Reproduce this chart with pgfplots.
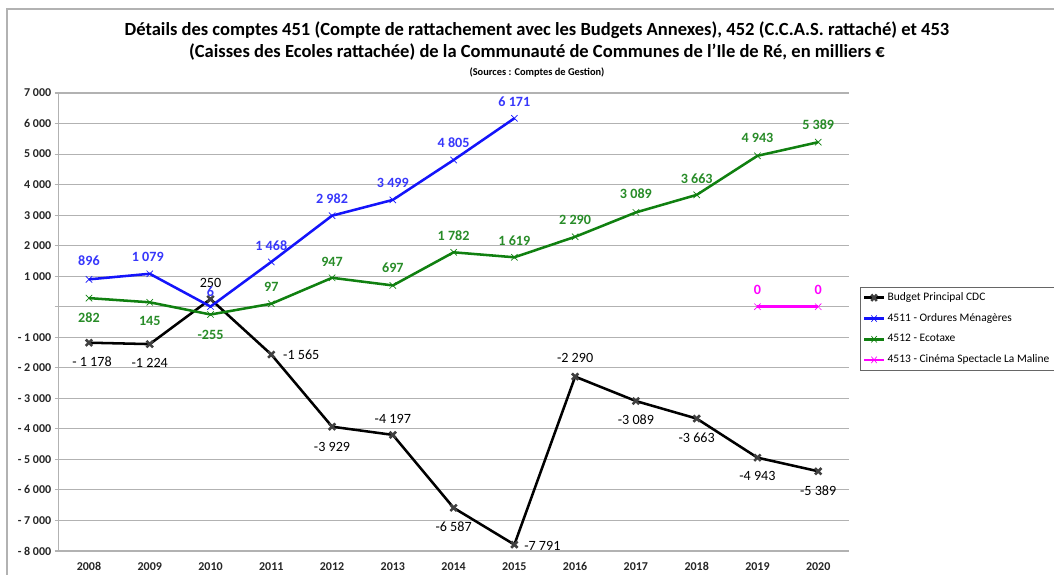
\documentclass[border=0pt]{standalone}
\usepackage{fontspec}
\setmainfont{Carlito}
\usepackage{pgfplots}
\pgfplotsset{compat=1.18}

\definecolor{gridgray}{RGB}{178,178,178}
\definecolor{serblue}{RGB}{20,20,250}
\definecolor{sergreen}{RGB}{16,128,16}
\definecolor{lblgreen}{RGB}{40,140,40}
\definecolor{sermag}{RGB}{255,0,255}

% data label: \lb{dx}{dy}{text}, offset of the label centre in px (y up)
\protected\def\lb#1#2#3{\raisebox{\dimexpr 0.75pt*#2-3.4pt\relax}[0pt][0pt]{\makebox[0pt]{\hspace*{\dimexpr 1.5pt*#1\relax}#3}}}

\begin{document}
\begin{tikzpicture}[x=0.75pt,y=0.75pt]
\useasboundingbox (0,0) rectangle (1054,575);
\draw[gridgray, line width=0.8pt] (7,0) -- (7,566) -- (1054,566);
\node[font=\fontsize{13.9}{16}\selectfont\bfseries] at (537,545) {Détails des comptes 451 (Compte de rattachement avec les Budgets Annexes), 452 (C.C.A.S. rattaché) et 453};
\node[font=\fontsize{13.9}{16}\selectfont\bfseries] at (537,523) {(Caisses des Ecoles rattachée) de la Communauté de Communes de l'Ile de Ré, en milliers €};
\node[font=\fontsize{7.8}{9}\selectfont\bfseries] at (537,503) {(Sources : Comptes de Gestion)};
\begin{axis}[
    at={(43.95pt,18pt)}, anchor=south west,
    scale only axis, width=592.5pt, height=343.5pt,
    xmin=-0.5, xmax=12.5, ymin=-8000, ymax=7000,
    xtick={0,...,12},
    xticklabels={2008,2009,2010,2011,2012,2013,2014,2015,2016,2017,2018,2019,2020},
    ytick={-8000,-7000,...,7000},
    yticklabels={- 8 000,- 7 000,- 6 000,- 5 000,- 4 000,- 3 000,- 2 000,- 1 000,,1 000,2 000,3 000,4 000,5 000,6 000,7 000},
    ymajorgrids, grid style={gridgray, line width=0.8pt},
    axis x line*=bottom, axis y line*=left,
    axis line style={gridgray, line width=0.8pt, -},
    x tick style={draw=none},
    y tick style={gridgray, line width=0.8pt},
    major tick length=3pt, tick align=outside,
    tick label style={font=\fontsize{9}{10}\selectfont\bfseries, text=black!85},
    yticklabel style={xshift=1pt},
    xticklabel style={yshift=-2pt},
    legend style={at={(1.0145,0.5764)}, anchor=north west, draw=black!60,
        line width=0.6pt, font=\fontsize{8.6}{10}\selectfont, inner sep=2pt,
        row sep=4.2pt, cells={anchor=west}},
    legend image post style={xscale=0.85},
    every axis plot/.append style={line width=1.9pt,
        mark=x, mark size=3.4pt, mark options={line width=0.5pt, solid}},
    point meta=explicit symbolic,
    nodes near coords,
    nodes near coords style={anchor=center, inner sep=0pt,
        font=\fontsize{10.6}{12}\selectfont\bfseries},
    clip=false,
]
\addplot[black, mark options={draw=black!75},
    nodes near coords style={font=\fontsize{10.6}{12}\selectfont, text=black}]
coordinates {
(0,-1178) [\lb{3}{-19}{- 1 178}]
(1,-1224) [\lb{0}{-19}{-1 224}]
(2,250)   [\lb{0}{16}{250}]
(3,-1565) [\lb{30}{0}{-1 565}]
(4,-3929) [\lb{0}{-20}{-3 929}]
(5,-4197) [\lb{0}{16}{-4 197}]
(6,-6587) [\lb{0}{-19}{-6 587}]
(7,-7791) [\lb{28}{-1}{-7 791}]
(8,-2290) [\lb{0}{19}{-2 290}]
(9,-3089) [\lb{0}{-19}{-3 089}]
(10,-3663) [\lb{0}{-19}{-3 663}]
(11,-4943) [\lb{0}{-18}{-4 943}]
(12,-5389) [\lb{0}{-20}{-5 389}]
};
\addlegendentry{Budget Principal CDC}
\addplot[serblue, nodes near coords style={text=serblue!85}]
coordinates {
(0,896)  [\lb{0}{18}{896}]
(1,1079) [\lb{-2}{17}{1 079}]
(2,6)    [\lb{0}{15}{6}]
(3,1468) [\lb{0}{16}{1 468}]
(4,2982) [\lb{0}{17}{2 982}]
(5,3499) [\lb{0}{17}{3 499}]
(6,4805) [\lb{0}{17}{4 805}]
(7,6171) [\lb{0}{16}{6 171}]
};
\addlegendentry{4511 - Ordures Ménagères}
\addplot[sergreen, nodes near coords style={text=lblgreen}]
coordinates {
(0,282)   [\lb{0}{-20}{282}]
(1,145)   [\lb{0}{-19}{145}]
(2,-255)  [\lb{0}{-20}{-255}]
(3,97)    [\lb{0}{17}{97}]
(4,947)   [\lb{0}{16}{947}]
(5,697)   [\lb{0}{17}{697}]
(6,1782)  [\lb{0}{16}{1 782}]
(7,1619)  [\lb{0}{16}{1 619}]
(8,2290)  [\lb{0}{17}{2 290}]
(9,3089)  [\lb{0}{18}{3 089}]
(10,3663) [\lb{0}{16}{3 663}]
(11,4943) [\lb{0}{18}{4 943}]
(12,5389) [\lb{0}{17}{5 389}]
};
\addlegendentry{4512 - Ecotaxe}
\addplot[sermag, nodes near coords style={text=sermag}]
coordinates {
(11,0) [\lb{0}{17}{0}]
(12,0) [\lb{0}{17}{0}]
};
\addlegendentry{4513 - Cinéma Spectacle La Maline}
\end{axis}
\end{tikzpicture}
\end{document}
